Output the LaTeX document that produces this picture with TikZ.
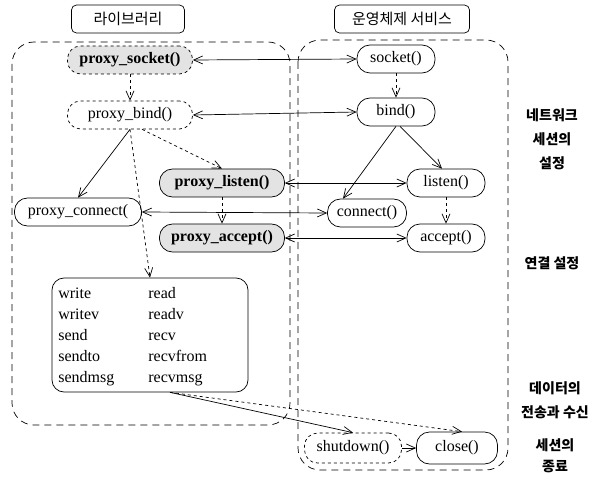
\documentclass[tikz,border=0pt]{standalone}
\usepackage{fontspec}
\setmainfont{Liberation Serif}
\newfontfamily\kr{Noto Sans CJK KR}
\usetikzlibrary{arrows.meta}
\tikzset{
  pill/.style={draw, rounded corners=13pt, minimum height=28pt, inner sep=0pt, font=\fontsize{16}{18}\selectfont},
  hot/.style={pill, fill=gray!22, font=\fontsize{16}{18}\selectfont\bfseries},
  hdr/.style={draw, rounded corners=5pt, minimum height=28pt, inner sep=0pt, font=\kr\fontsize{15}{17}\selectfont},
  side/.style={align=center, font=\kr\bfseries\fontsize{14}{24}\selectfont},
  region/.style={draw, dashed, dash pattern=on 7pt off 5pt, rounded corners=22pt},
  arr/.style={-{Straight Barb[length=9pt,width=8pt]}},
  dblarr/.style={{Straight Barb[length=9pt,width=8pt]}-{Straight Barb[length=9pt,width=8pt]}},
  iotext/.style={anchor=west, align=left, inner sep=0pt, font=\fontsize{16}{21}\selectfont}
}
\begin{document}
\begin{tikzpicture}[x=1pt,y=-1pt, line width=0.7pt]
\useasboundingbox (0,0) rectangle (607,478);
% regions
\draw[region] (12,42) rectangle (290,425);
\draw[region] (298,40) rectangle (508,470);
% headers
\node[hdr, minimum width=113pt] (hlib) at (128,19) {라이브러리};
\node[hdr, minimum width=135pt] (hos) at (402,19) {운영체제 서비스};
% library nodes
\node[hot, dashed, minimum width=125pt] (psock) at (130,60) {proxy\_socket()};
\node[pill, dashed, minimum width=125pt] (pbind) at (130,115) {proxy\_bind()};
\node[hot, minimum width=125pt] (plisten) at (222,183) {proxy\_listen()};
\node[pill, minimum width=127pt] (pconn) at (78,212) {proxy\_connect(};
\node[hot, minimum width=125pt] (paccept) at (222,238) {proxy\_accept()};
% OS nodes
\node[pill, minimum width=78pt] (sock) at (396,59) {socket()};
\node[pill, minimum width=78pt] (bind) at (396,112) {bind()};
\node[pill, minimum width=78pt] (listen) at (446,183) {listen()};
\node[pill, minimum width=79pt] (conn) at (367,213) {connect()};
\node[pill, minimum width=78pt] (accept) at (446,238) {accept()};
\node[pill, dashed, minimum width=97pt, minimum height=30pt] (shut) at (353,448) {shutdown()};
\node[pill, minimum width=81pt, minimum height=32pt] (close) at (457,448) {close()};
% I/O box
\node[draw, rounded corners=12pt, minimum width=196pt, minimum height=114pt, inner sep=0pt] (io) at (150,335) {};
\node[iotext] (iocola) at (58,337) {write\\writev\\send\\sendto\\sendmsg};
\node[iotext] (iocolb) at (148,337) {read\\readv\\recv\\recvfrom\\recvmsg};
% side labels
\node[side] (lab1) at (552,139) {네트워크\\세션의\\설정};
\node[side] (lab2) at (552,263) {연결 설정};
\node[side] (lab3) at (555,400) {데이터의\\전송과 수신};
\node[side, font=\kr\bfseries\fontsize{14}{21}\selectfont] (lab4) at (555,456) {세션의\\종료};
% connectors
\draw[dblarr] (psock.east) -- (sock.west);
\draw[dblarr] (pbind.east) -- (bind.west);
\draw[arr, dashed] (psock) -- (pbind);
\draw[arr, dashed] (sock) -- (bind);
\draw[arr] (pbind.south) -- (pconn.north);
\draw[arr, dashed] (pbind.south) -- (io.north);
\draw[arr, dashed] ([xshift=12pt]pbind.south) -- (plisten.north);
\draw[arr, dashed] (plisten) -- (paccept);
\draw[dblarr] (plisten.east) -- (listen.west);
\draw[dblarr] (pconn.east) -- (conn.west);
\draw[dblarr] (paccept.east) -- (accept.west);
\draw[arr] (bind.south) -- ([xshift=-24pt]conn.north);
\draw[arr] ([xshift=4pt]bind.south) -- ([xshift=-4pt]listen.north);
\draw[arr, dashed] (listen) -- (accept);
\draw[arr] ([xshift=20pt]io.south) -- (shut.north);
\draw[arr, dashed] ([xshift=20pt]io.south) -- ([xshift=5pt]close.north);
\draw[arr] (shut) -- (close);
\end{tikzpicture}
\end{document}
